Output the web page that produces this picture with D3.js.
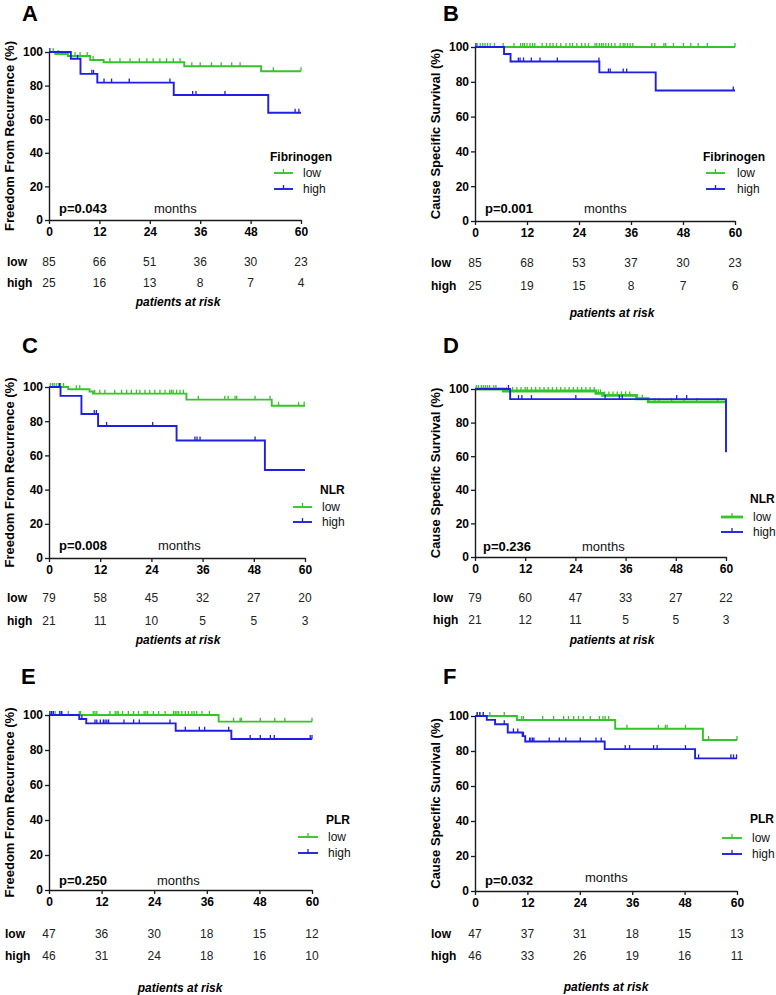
<!DOCTYPE html>
<html>
<head>
<meta charset="utf-8">
<script src="https://cdn.jsdelivr.net/npm/d3@7"></script>
<style>
  html, body { margin: 0; padding: 0; background: #fff; }
  svg { display: block; font-family: "Liberation Sans", Arial, Helvetica, sans-serif; }
</style>
</head>
<body>
<svg id="chart" width="776" height="995"></svg>
<script>
// ---------------- DATA ----------------
const xTicks = [0, 12, 24, 36, 48, 60];
const yTicks = [0, 20, 40, 60, 80, 100];
const groupNames = ["low", "high"];
const panelLetters = ["A", "B", "C", "D", "E", "F"];
const yTitles = ["Freedom From Recurrence (%)", "Cause Specific Survival (%)",
                 "Freedom From Recurrence (%)", "Cause Specific Survival (%)",
                 "Freedom From Recurrence (%)", "Cause Specific Survival (%)"];
const legendTitles = ["Fibrinogen", "Fibrinogen", "NLR", "NLR", "PLR", "PLR"];
const pValues = ["p=0.043", "p=0.001", "p=0.008", "p=0.236", "p=0.250", "p=0.032"];

// Kaplan-Meier steps: [month, survival % after step]
const aLowSteps  = [[0,100],[1.5,98.8],[4.5,97.6],[9.8,95.2],[13,93.9],[32.2,91.5],[50.5,88.5]];
const aLowCens   = [1,2.2,6.2,7.4,9.1,10.5,14.5,16.9,19.3,21.5,23.3,24.8,26.4,28,29.6,31.2,34,36,38.7,41,43.5,45.5,53.4,60];
const aHighSteps = [[0,100],[5.2,96],[7.5,87],[11.5,81.8],[29.7,74.4],[52.2,63.8]];
const aHighCens  = [0.2,6.8,10.2,10.6,13.1,14.9,19.1,28.8,34.2,35,41.9,58.6,59.5];

const bLowSteps  = [[0,100]];
const bLowCens   = [0.5,1.2,1.8,2.3,2.9,3.5,4.5,6.5,9,10.5,11,11.4,12,12.7,13.3,13.8,15.5,16.5,17.3,18,18.8,19.8,21,21.9,22.5,23.5,24.6,25.4,26.2,27.7,28.1,28.7,29.2,29.6,30.2,30.8,31.5,32.3,33.5,34.2,34.6,35.2,35.8,36.4,40.8,41.5,43.6,44,45.8,48.1,49.8,51.5,53.6,60];
const bHighSteps = [[0,100],[6.7,96],[8.2,91.7],[28.7,85.4],[41.7,75]];
const bHighCens  = [0.2,10,10.4,11.2,13,15,19,28.6,30.8,31.2,34.2,35,59.6];

const cLowSteps  = [[0,100],[4.5,98.7],[9.5,97.4],[10.3,96.1],[32.2,92.6],[52.2,89]];
const cLowCens   = [0.3,0.8,1.2,1.7,2.2,2.7,3.4,6.4,7.2,10.7,11.9,13.1,15.4,17,18.2,19.3,20.5,21.3,22.5,23.6,24.8,26,27.2,28.3,28.7,29.1,29.9,30.7,31.5,35,41.2,42,43.6,44,48.3,51.8,53.8,58.5,59.8];
const cHighSteps = [[0,100],[2.7,94.8],[7.6,84.2],[11.5,77.2],[29.9,68.7],[50.6,51.5]];
const cHighCens  = [2.5,10.6,11.1,13.5,24.3,34.2,34.7,35.4,48.3];

const dLowSteps  = [[0,100],[6.8,98.8],[28.9,97.4],[30.5,96.2],[38.6,94.2],[41.4,92.3]];
const dLowCens   = [0.3,0.8,1.5,2,2.5,3,3.5,4.5,5,7.5,9,10,11,12,12.5,13.5,14.5,15.5,16.5,17.5,18.5,19.5,20.5,21.5,22.5,23.5,24.5,25.5,26.5,27.5,28.5,29.5,30,31,32,33,34,35,36,37,40,43,44,47,50,53,58];
const dHighSteps = [[0,100],[8.4,94],[60,62.4]];
const dHighCens  = [8,10.4,11.2,13.5,24.1,31.1,34.5,35.2,48.2,50.6];

const eLowSteps  = [[0,100],[38.7,96.2]];
const eLowCens   = [0.2,0.6,1,1.4,2.4,2.9,4.4,6.9,7.2,10.1,10.5,10.9,13.9,15.1,15.5,15.8,16.8,18.1,19.3,20.4,21.7,22.1,22.5,23.8,25,26.5,28.4,28.8,29.2,29.6,30.3,31.1,31.8,32.6,33.1,33.7,34.9,36.6,42.1,43.6,43.9,48.2,51.5,53.8,60];
const eHighSteps = [[0,100],[6.9,97.7],[8.5,95.2],[28.9,91],[41.6,86.3]];
const eHighCens  = [0.2,0.6,1,2.5,2.9,7.5,10.5,10.9,11.7,12.4,12.8,13.2,13.6,17.1,19.3,20.6,27.6,31.1,34.3,35.5,41,45.9,48.2,50.5,51.4,59.6,60];

const fLowSteps  = [[0,100],[9.6,97.7],[32.1,92.7],[52.2,86.3]];
const fLowCens   = [0.5,1.1,1.9,3.4,6.7,10.7,11.1,15.5,18,20.3,21.4,22.6,23.7,24.8,26.4,28.5,29.3,29.8,30.6,34.8,42,43.6,44,48.2,53.5,60];
const fHighSteps = [[0,100],[2.7,97.8],[4.6,95.3],[7.5,90.6],[10.9,88.5],[11.5,85.4],[29.7,81.1],[50.4,75.8]];
const fHighCens  = [0.5,1.1,1.9,6.7,8.8,9.8,11.1,12.5,12.8,13.2,13.5,17,19.3,20.8,24.1,27.7,28.9,34.4,35.4,40.9,41.7,48.2,51.2,58.6,59.2,59.9];

// Numbers at risk
const aRiskLow = [85,66,51,36,30,23], aRiskHigh = [25,16,13,8,7,4];
const bRiskLow = [85,68,53,37,30,23], bRiskHigh = [25,19,15,8,7,6];
const cRiskLow = [79,58,45,32,27,20], cRiskHigh = [21,11,10,5,5,3];
const dRiskLow = [79,60,47,33,27,22], dRiskHigh = [21,12,11,5,5,3];
const eRiskLow = [47,36,30,18,15,12], eRiskHigh = [46,31,24,18,16,10];
const fRiskLow = [47,37,31,18,15,13], fRiskHigh = [46,33,26,19,16,11];

// ---------------- LAYOUT / STYLE ----------------
const GREEN = "#36c42b", BLUE = "#1f1fe3", INK = "#1a1a1a";
const layout = [
  {x0:49,  x1:301, yTop:52,  yBot:220, letter:[22,13],  ytX:9,   leg:{tx:270,ty:157,l0:274,l1:293,xt:303,rows:[173,189]}, p:[59,208],  mo:[154,208], rl:7,   ry:[262,283], par:[178,302]},
  {x0:475, x1:735, yTop:47,  yBot:221, letter:[443,13], ytX:435, leg:{tx:703,ty:157,l0:706,l1:725,xt:737,rows:[173,189]}, p:[485,208], mo:[584,208], rl:431, ry:[263,286], par:[612,313]},
  {x0:49,  x1:305, yTop:387, yBot:558, letter:[22,345], ytX:9,   leg:{tx:320,ty:490,l0:293,l1:312,xt:322,rows:[507,522]}, p:[59,545],  mo:[158,545], rl:7,   ry:[598,621], par:[178,640]},
  {x0:475, x1:726, yTop:389, yBot:557, letter:[443,345],ytX:435, leg:{tx:750,ty:499,l0:721,l1:743,xt:753,rows:[517,532]}, p:[483,546], mo:[582,546], rl:433, ry:[598,620], par:[612,640]},
  {x0:49,  x1:312, yTop:715, yBot:890, letter:[21,676], ytX:9,   leg:{tx:326,ty:820,l0:298,l1:318,xt:328,rows:[837,853]}, p:[59,880],  mo:[157,880], rl:5,   ry:[934,956], par:[180,988]},
  {x0:475, x1:737, yTop:716, yBot:891, letter:[443,676],ytX:435, leg:{tx:750,ty:819,l0:722,l1:742,xt:752,rows:[838,854]}, p:[485,880], mo:[585,877], rl:431, ry:[934,956], par:[606,987]}
];
const series = [
  [[aLowSteps,aLowCens],[aHighSteps,aHighCens]],
  [[bLowSteps,bLowCens],[bHighSteps,bHighCens]],
  [[cLowSteps,cLowCens],[cHighSteps,cHighCens]],
  [[dLowSteps,dLowCens],[dHighSteps,dHighCens]],
  [[eLowSteps,eLowCens],[eHighSteps,eHighCens]],
  [[fLowSteps,fLowCens],[fHighSteps,fHighCens]]
];
const risks = [[aRiskLow,aRiskHigh],[bRiskLow,bRiskHigh],[cRiskLow,cRiskHigh],[dRiskLow,dRiskHigh],[eRiskLow,eRiskHigh],[fRiskLow,fRiskHigh]];
const colors = [GREEN, BLUE];

const svg = d3.select("#chart");
svg.append("rect").attr("width", 776).attr("height", 995).attr("fill", "#fff");

function survAt(steps, t) {
  let s = steps[0][1];
  for (const [tt, v] of steps) { if (tt <= t) s = v; }
  return s;
}

layout.forEach((L, i) => {
  const g = svg.append("g");
  const x = d3.scaleLinear().domain([0, 60]).range([L.x0, L.x1]);
  const y = d3.scaleLinear().domain([0, 100]).range([L.yBot, L.yTop]);

  // panel letter
  g.append("text").attr("x", L.letter[0]).attr("y", L.letter[1])
    .attr("dominant-baseline", "central").attr("font-size", 22).attr("font-weight", "bold")
    .attr("fill", "#000").text(panelLetters[i]);

  // curves
  series[i].forEach(([steps, cens], k) => {
    const pts = steps.slice();
    if (pts[pts.length - 1][0] < 60) pts.push([60, pts[pts.length - 1][1]]);
    const lw = (i === 3 && k === 0) ? 2.8 : 1.9;
    g.append("path")
      .attr("d", d3.line().x(d => x(d[0])).y(d => y(d[1])).curve(d3.curveStepAfter)(pts))
      .attr("fill", "none").attr("stroke", colors[k]).attr("stroke-width", lw);
    g.selectAll(null).data(cens).enter().append("line")
      .attr("x1", d => x(d)).attr("x2", d => x(d))
      .attr("y1", d => y(survAt(steps, d)) - 4).attr("y2", d => y(survAt(steps, d)))
      .attr("stroke", colors[k]).attr("stroke-width", 1.3);
  });

  // axes
  const ax = g.append("g").attr("transform", `translate(0,${L.yBot})`)
    .call(d3.axisBottom(x).tickValues(xTicks).tickSize(4).tickSizeOuter(0).tickPadding(3));
  const ay = g.append("g").attr("transform", `translate(${L.x0},0)`)
    .call(d3.axisLeft(y).tickValues(yTicks).tickSize(4).tickSizeOuter(0).tickPadding(2));
  [ax, ay].forEach(a => {
    a.select(".domain").attr("stroke", INK).attr("stroke-width", 1.4);
    a.selectAll(".tick line").attr("stroke", INK).attr("stroke-width", 1.3);
    a.selectAll(".tick text").attr("fill", "#000").attr("font-size", 12).attr("font-weight", "bold")
      .attr("font-family", "'Liberation Sans', Arial, sans-serif");
  });

  // y title
  g.append("text")
    .attr("transform", `translate(${L.ytX},${(L.yTop + L.yBot) / 2}) rotate(-90)`)
    .attr("text-anchor", "middle").attr("dominant-baseline", "central")
    .attr("font-size", 13).attr("font-weight", "bold").attr("fill", "#000").text(yTitles[i]);

  // p-value and months
  g.append("text").attr("x", L.p[0]).attr("y", L.p[1]).attr("dominant-baseline", "central")
    .attr("font-size", 13).attr("font-weight", "bold").attr("fill", "#000").text(pValues[i]);
  g.append("text").attr("x", L.mo[0]).attr("y", L.mo[1]).attr("dominant-baseline", "central")
    .attr("font-size", 13).attr("fill", "#111").text("months");

  // legend
  g.append("text").attr("x", L.leg.tx).attr("y", L.leg.ty).attr("dominant-baseline", "central")
    .attr("font-size", 12).attr("font-weight", "bold").attr("fill", "#000").text(legendTitles[i]);
  groupNames.forEach((name, k) => {
    const ry = L.leg.rows[k];
    const lw = (i === 3 && k === 0) ? 2.8 : 1.9;
    g.append("line").attr("x1", L.leg.l0).attr("x2", L.leg.l1).attr("y1", ry).attr("y2", ry)
      .attr("stroke", colors[k]).attr("stroke-width", lw);
    const mx = (L.leg.l0 + L.leg.l1) / 2;
    g.append("line").attr("x1", mx).attr("x2", mx).attr("y1", ry - 4).attr("y2", ry)
      .attr("stroke", colors[k]).attr("stroke-width", 1.3);
    g.append("text").attr("x", L.leg.xt).attr("y", ry).attr("dominant-baseline", "central")
      .attr("font-size", 12).attr("fill", "#111").text(name);
  });

  // risk table
  groupNames.forEach((name, k) => {
    const ry = L.ry[k];
    g.append("text").attr("x", L.rl).attr("y", ry).attr("dominant-baseline", "central")
      .attr("font-size", 12).attr("font-weight", "bold").attr("fill", "#000").text(name);
    g.selectAll(null).data(risks[i][k]).enter().append("text")
      .attr("x", (d, j) => x(xTicks[j])).attr("y", ry)
      .attr("text-anchor", "middle").attr("dominant-baseline", "central")
      .attr("font-size", 12).attr("fill", "#222").text(d => d);
  });
  g.append("text").attr("x", L.par[0]).attr("y", L.par[1]).attr("text-anchor", "middle")
    .attr("dominant-baseline", "central").attr("font-size", 12).attr("font-weight", "bold")
    .attr("font-style", "italic").attr("fill", "#000").text("patients at risk");
});
</script>
</body>
</html>
